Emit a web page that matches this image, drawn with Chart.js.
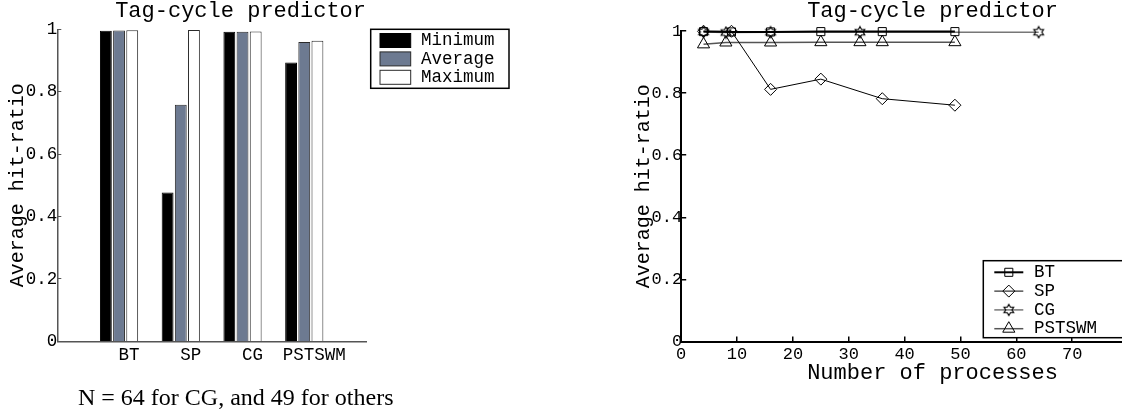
<!DOCTYPE html>
<html>
<head>
<meta charset="utf-8">
<title>Tag-cycle predictor</title>
<script src="https://cdn.jsdelivr.net/npm/chart.js@4/dist/chart.umd.min.js"></script>
<style>
  html, body { margin: 0; padding: 0; background: #fff; width: 1122px; height: 414px; overflow: hidden; }
  #left { position: absolute; left: 0; top: 0; width: 520px; height: 414px; }
  #right { position: absolute; left: 620px; top: 0; width: 580px; height: 414px; }
  #note { position: absolute; left: 78px; top: 385px; font: 24px 'Liberation Serif', 'Times New Roman', serif; line-height: 24px; white-space: nowrap; color: #000; }
</style>
</head>
<body>
<div id="left"><canvas id="bars"></canvas></div>
<div id="right"><canvas id="lines"></canvas></div>
<div id="note">N = 64 for CG, and 49 for others</div>
<script>
// bar chart values
const benchmarks = ['BT', 'SP', 'CG', 'PSTSWM'];
const minRatio = [0.995, 0.477, 0.992, 0.894];
const avgRatio = [0.996, 0.758, 0.992, 0.959];
const maxRatio = [0.997, 0.998, 0.993, 0.963];

// line chart values
const btProcs = [4, 9, 16, 25, 36, 49];
const btHit = [0.998, 0.997, 0.997, 0.998, 0.998, 0.998];
const spProcs = [4, 9, 16, 25, 36, 49];
const spHit = [0.999, 0.999, 0.812, 0.845, 0.782, 0.761];
const cgProcs = [4, 8, 16, 32, 64];
const cgHit = [0.997, 0.995, 0.996, 0.996, 0.996];
const psProcs = [4, 8, 16, 25, 32, 36, 49];
const psHit = [0.957, 0.963, 0.963, 0.964, 0.964, 0.964, 0.964];

const yTicks = [0, 0.2, 0.4, 0.6, 0.8, 1];
const xTicks = [0, 10, 20, 30, 40, 50, 60, 70];

Chart.defaults.font.family = "'Liberation Mono', 'Courier New', monospace";
Chart.defaults.color = '#000';

const fmt = v => String(Math.round(v * 10) / 10);

// six pointed star marker for CG
function hexagram(r) {
  const c = document.createElement('canvas');
  const s = Math.ceil(r * 2 + 3);
  c.width = s; c.height = s;
  const g = c.getContext('2d');
  g.translate(s / 2, s / 2);
  g.beginPath();
  for (let i = 0; i < 12; i++) {
    const a = -Math.PI / 2 + i * Math.PI / 6;
    const rr = i % 2 ? r / Math.sqrt(3) : r;
    g.lineTo(rr * Math.cos(a), rr * Math.sin(a));
  }
  g.closePath();
  g.strokeStyle = '#000';
  g.lineWidth = 1.2;
  g.stroke();
  return c;
}

// legend in a black frame, like the matlab one
const boxLegend = {
  id: 'boxLegend',
  afterDraw(chart, args, o) {
    const ctx = chart.ctx;
    ctx.save();
    ctx.fillStyle = '#fff';
    ctx.fillRect(o.x, o.y, o.w, o.h);
    ctx.strokeStyle = '#000';
    ctx.lineWidth = 1.5;
    ctx.strokeRect(o.x, o.y, o.w, o.h);
    ctx.font = o.font;
    ctx.textBaseline = 'middle';
    chart.data.datasets.forEach((ds, i) => {
      const y = o.y + o.first + i * o.rowH;
      if (o.kind === 'bar') {
        ctx.fillStyle = ds.backgroundColor;
        ctx.fillRect(o.x + o.sx, y - 7, o.sw, 14);
        ctx.strokeStyle = ds.borderColor;
        ctx.lineWidth = 1;
        ctx.strokeRect(o.x + o.sx, y - 7, o.sw, 14);
      } else {
        ctx.strokeStyle = ds.borderColor;
        ctx.lineWidth = ds.borderWidth;
        ctx.beginPath();
        ctx.moveTo(o.x + o.sx, y);
        ctx.lineTo(o.x + o.sx + o.sw, y);
        ctx.stroke();
        ctx.strokeStyle = '#000';
        ctx.fillStyle = 'rgba(0,0,0,0)';
        ctx.lineWidth = 1;
        if (Chart.helpers && Chart.helpers.drawPoint) {
          Chart.helpers.drawPoint(ctx, {pointStyle: ds.pointStyle, radius: ds.pointRadius, borderWidth: 1, rotation: 0}, o.x + o.sx + o.sw / 2, y);
        }
      }
      ctx.fillStyle = '#000';
      ctx.fillText(ds.label, o.x + o.tx, y);
    });
    ctx.restore();
  }
};

new Chart(document.getElementById('bars'), {
  type: 'bar',
  data: {
    labels: ['', ...benchmarks, ''],
    datasets: [
      {label: 'Minimum', data: [null, ...minRatio, null], backgroundColor: '#000000', borderColor: '#000000'},
      {label: 'Average', data: [null, ...avgRatio, null], backgroundColor: '#6d7a91', borderColor: '#2a2a2a'},
      {label: 'Maximum', data: [null, ...maxRatio, null], backgroundColor: '#ffffff', borderColor: '#2a2a2a'}
    ]
  },
  options: {
    responsive: true,
    maintainAspectRatio: false,
    animation: false,
    datasets: {bar: {categoryPercentage: 0.64, barPercentage: 0.9, borderWidth: 1}},
    layout: {padding: {left: 0, right: 154, top: 0, bottom: 45.6}},
    plugins: {
      legend: {display: false},
      tooltip: {enabled: false},
      title: {
        display: true, text: 'Tag-cycle predictor', align: 'end', fullSize: false,
        font: {size: 22, lineHeight: 1, weight: 'normal'}, color: '#000',
        padding: {top: 0, bottom: 7.3}
      },
      boxLegend: {kind: 'bar', x: 370.7, y: 29.3, w: 138.3, h: 59, first: 11.2, rowH: 18.4, sx: 9.3, sw: 30.7, tx: 50.3, font: "17.5px 'Liberation Mono', monospace"}
    },
    scales: {
      x: {
        offset: false,
        grid: {display: false, drawTicks: false},
        border: {color: '#555', width: 1.5},
        ticks: {font: {size: 17.5}, color: '#000', padding: 3, labelOffset: 10, maxRotation: 0, minRotation: 0, autoSkip: false}
      },
      y: {
        min: 0, max: 1,
        afterFit: s => { s.width = 57.3; },
        afterBuildTicks: s => { s.ticks = yTicks.map(v => ({value: v})); },
        grid: {drawOnChartArea: false, tickLength: -4, color: '#555'},
        border: {color: '#555', width: 1.5},
        ticks: {font: {size: 17.5}, color: '#000', padding: 4, callback: fmt},
        title: {display: true, text: 'Average hit-ratio', font: {size: 20, lineHeight: 1}, color: '#000', padding: {top: 8, bottom: 0}}
      }
    }
  },
  plugins: [boxLegend]
});

const pts = (xs, ys) => xs.map((x, i) => ({x: x, y: ys[i]}));

new Chart(document.getElementById('lines'), {
  type: 'line',
  data: {
    datasets: [
      {label: 'BT', data: pts(btProcs, btHit), borderColor: '#000', borderWidth: 2, pointStyle: 'rect', pointRadius: 5.7},
      {label: 'SP', data: pts(spProcs, spHit), borderColor: '#000', borderWidth: 1, pointStyle: 'rectRot', pointRadius: 6},
      {label: 'CG', data: pts(cgProcs, cgHit), borderColor: '#777', borderWidth: 1.5, pointStyle: hexagram(5.5), pointRadius: 5.5},
      {label: 'PSTSWM', data: pts(psProcs, psHit), borderColor: '#555', borderWidth: 1.5, pointStyle: 'triangle', pointRadius: 7}
    ]
  },
  options: {
    responsive: true,
    maintainAspectRatio: false,
    animation: false,
    datasets: {line: {tension: 0, clip: false, pointBorderColor: '#000', pointBorderWidth: 1, pointBackgroundColor: 'rgba(0,0,0,0)', fill: false}},
    layout: {padding: {left: 0, right: 16.1, top: 0, bottom: 30.3}},
    plugins: {
      legend: {display: false},
      tooltip: {enabled: false},
      title: {
        display: true, text: 'Tag-cycle predictor', fullSize: false,
        font: {size: 22, lineHeight: 1, weight: 'normal'}, color: '#000',
        padding: {top: 0, bottom: 9}
      },
      boxLegend: {kind: 'line', x: 363.3, y: 260.7, w: 250, h: 77, first: 11.6, rowH: 18.8, sx: 11, sw: 29, tx: 50.7, font: "17.5px 'Liberation Mono', monospace"}
    },
    scales: {
      x: {
        type: 'linear', min: 0, max: 90,
        afterBuildTicks: s => { s.ticks = xTicks.map(v => ({value: v})); },
        grid: {drawOnChartArea: false, tickLength: -5, color: '#000', lineWidth: 1.5},
        border: {color: '#000', width: 2},
        ticks: {font: {size: 17}, color: '#000', padding: 7.5, maxRotation: 0},
        title: {display: true, text: 'Number of processes', font: {size: 22, lineHeight: 1}, color: '#000', padding: {top: -10.2, bottom: 0}}
      },
      y: {
        min: 0, max: 1,
        afterFit: s => { s.width = 61.2; },
        afterBuildTicks: s => { s.ticks = yTicks.map(v => ({value: v})); },
        grid: {drawOnChartArea: false, tickLength: -5, color: '#000', lineWidth: 1.5},
        border: {color: '#000', width: 2},
        ticks: {font: {size: 17}, color: '#000', padding: 4, callback: fmt},
        title: {display: true, text: 'Average hit-ratio', font: {size: 20, lineHeight: 1}, color: '#000', padding: {top: 13.3, bottom: 0}}
      }
    }
  },
  plugins: [boxLegend]
});
</script>
</body>
</html>
